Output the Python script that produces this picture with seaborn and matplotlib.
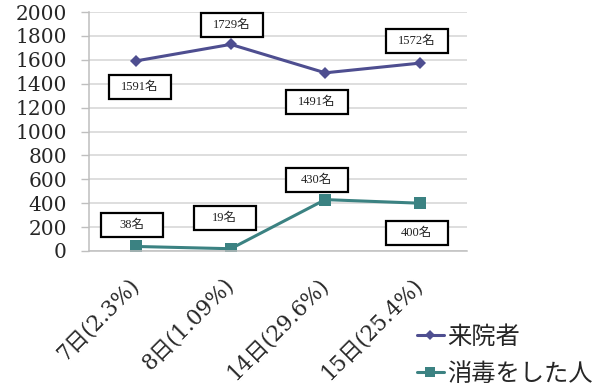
import matplotlib
matplotlib.use("Agg")
import matplotlib.pyplot as plt
import matplotlib.transforms as mtransforms
from matplotlib.patches import Rectangle
import seaborn as sns
import pandas as pd

# ---- data ----
categories = ["7日(2.3%)", "8日(1.09%)", "14日(29.6%)", "15日(25.4%)"]
series_names = ["来院者", "消毒をした人"]
visitors = [1591, 1729, 1491, 1572]
disinfected = [38, 19, 430, 400]
visitor_labels = ["1591名", "1729名", "1491名", "1572名"]
disinfected_labels = ["38名", "19名", "430名", "400名"]
y_ticks = list(range(0, 2001, 200))

# ---- layout (pixel offsets of label boxes from their points) ----
visitor_offsets = [(3.5, -26), (1, 19.5), (-8.5, -29), (-3, 22)]
disinfected_offsets = [(-4.5, 21.5), (-6, 30.5), (-8.5, 19.5), (-3, -30)]

colors = {"来院者": "#4E4E90", "消毒をした人": "#3B8282"}
markers = {"来院者": "D", "消毒をした人": "s"}

df = pd.DataFrame({
    "day": categories * 2,
    "value": visitors + disinfected,
    "series": [series_names[0]] * 4 + [series_names[1]] * 4,
})

sns.set_theme(style="white")
plt.rcParams["font.family"] = ["DejaVu Serif", "Noto Sans CJK JP"]

DPI = 100
fig = plt.figure(figsize=(6.04, 3.89), dpi=DPI)
ax = fig.add_axes([89 / 604, 1 - 251 / 389, (467 - 89) / 604, (251 - 12) / 389])

sns.lineplot(data=df, x="day", y="value", hue="series", style="series",
             palette=colors, markers=markers, dashes=False, sort=False,
             linewidth=2.2, markeredgewidth=0, ax=ax)
for line in ax.lines:
    if line.get_marker() == "D":
        line.set_markersize(6.5)
    else:
        line.set_markersize(8.5)

ax.set_xlim(-0.5, len(categories) - 0.5)
ax.set_ylim(0, 2000)
ax.set_yticks(y_ticks)
ax.set_yticklabels([str(v) for v in y_ticks], fontsize=14.5, family="DejaVu Serif")
ax.yaxis.grid(True, color="#D4D4D4", linewidth=1.1)
ax.xaxis.grid(False)
ax.set_xlabel("")
ax.set_ylabel("")

ax.set_xticks(range(len(categories)))
ax.set_xticklabels(categories, rotation=45, ha="right", va="center",
                   rotation_mode="anchor", fontsize=15.5,
                   family=["DejaVu Serif", "Noto Sans CJK JP"])
ax.set_xticks([i - 0.5 for i in range(len(categories) + 1)], minor=True)
ax.tick_params(axis="x", which="major", length=0, pad=22)
ax.tick_params(axis="x", which="minor", length=6, width=1, color="#BFBFBF", direction="out")
ax.tick_params(axis="y", length=6, width=1, color="#BFBFBF", direction="out", pad=10, left=True)

for s in ["top", "right"]:
    ax.spines[s].set_visible(False)
for s in ["left", "bottom"]:
    ax.spines[s].set_color("#BFBFBF")
    ax.spines[s].set_linewidth(1.1)

# ---- label boxes ----
BW, BH = 62, 24
def add_box(xi, yv, text, off):
    trans = fig.dpi_scale_trans + mtransforms.ScaledTranslation(xi, yv, ax.transData)
    dx, dy = off
    rect = Rectangle(((dx - BW / 2) / DPI, (dy - BH / 2) / DPI), BW / DPI, BH / DPI,
                     transform=trans, facecolor="white", edgecolor="black",
                     linewidth=1.6, zorder=5, clip_on=False)
    ax.add_patch(rect)
    ax.text(dx / DPI, dy / DPI, text, transform=trans, ha="center", va="center",
            fontsize=9, family=["Liberation Serif", "Noto Sans CJK JP"],
            color="#222222", zorder=6)

for i, (v, t, o) in enumerate(zip(visitors, visitor_labels, visitor_offsets)):
    add_box(i, v, t, o)
for i, (v, t, o) in enumerate(zip(disinfected, disinfected_labels, disinfected_offsets)):
    add_box(i, v, t, o)

# ---- legend ----
handles, labels = ax.get_legend_handles_labels()
ax.get_legend().remove()
leg = fig.legend(handles, labels, loc="upper left", bbox_to_anchor=(417 / 604, 1 - 324 / 389),
                 frameon=False, handlelength=1.1, handletextpad=0.15,
                 labelspacing=0.45, borderaxespad=0, borderpad=0,
                 prop={"family": ["Noto Sans CJK JP"], "size": 17.5})
for h in leg.legend_handles:
    h.set_markersize(5 if h.get_marker() == "D" else 7)

fig.savefig("out.png", dpi=DPI, facecolor="white")
